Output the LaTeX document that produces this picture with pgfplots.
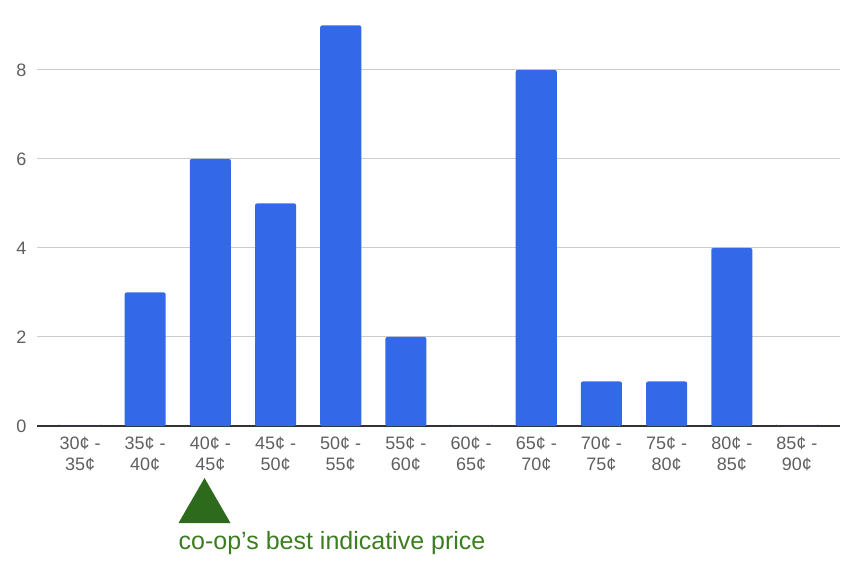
\documentclass[border=0pt]{standalone}
\usepackage{fontspec}
\setmainfont{Liberation Sans}
\usepackage{pgfplots}
\pgfplotsset{compat=1.18}
\definecolor{BarBlue}{HTML}{3369E8}
\definecolor{GridGray}{HTML}{CCCCCC}
\definecolor{LabelGray}{HTML}{5F5F5F}
\definecolor{TriGreen}{HTML}{2D6A1B}
\definecolor{TextGreen}{HTML}{3C7D22}
\newcommand{\lbl}[2]{\strut#1¢ -\\\strut#2¢}

\begin{document}
\begin{tikzpicture}
\begin{axis}[
  scale only axis,
  width=803pt,
  height=426pt,
  xmin=-0.66, xmax=11.66,
  ymin=0, ymax=9.57,
  ybar,
  bar width=0.63,
  xtick={0,1,2,3,4,5,6,7,8,9,10,11},
  xticklabels={{\lbl{30}{35}},{\lbl{35}{40}},{\lbl{40}{45}},{\lbl{45}{50}},{\lbl{50}{55}},{\lbl{55}{60}},{\lbl{60}{65}},{\lbl{65}{70}},{\lbl{70}{75}},{\lbl{75}{80}},{\lbl{80}{85}},{\lbl{85}{90}}},
  xticklabel style={align=center,font=\fontsize{18}{21}\selectfont,text=LabelGray,yshift=-5pt},
  ytick={0,2,4,6,8},
  yticklabel style={font=\fontsize{18}{21}\selectfont,text=LabelGray,xshift=-7pt},
  /pgf/number format/assume math mode=true,
  ymajorgrids,
  grid style={GridGray,line width=1pt},
  axis x line*=bottom,
  axis y line*=left,
  y axis line style={draw=none},
  x axis line style={draw=black!80,line width=1.2pt,-},
  major tick length=0pt,
  xtick style={draw=none},
  ytick style={draw=none},
  clip=false,
]
\addplot[fill=BarBlue,draw=none,rounded corners=2pt] coordinates {
  (0,0) (1,3) (2,6) (3,5) (4,9) (5,2) (6,0) (7,8) (8,1) (9,1) (10,4) (11,0)
};
\fill[TriGreen] ([xshift=-26pt,yshift=-97pt]axis cs:1.91,0) -- ([yshift=-52pt]axis cs:1.91,0) -- ([xshift=26pt,yshift=-97pt]axis cs:1.91,0) -- cycle;
\node[anchor=base west,inner sep=0pt,text=TextGreen,font=\fontsize{25}{28}\selectfont] at ([xshift=-26pt,yshift=-123pt]axis cs:1.91,0) {co-op’s best indicative price};
\path ([xshift=-37pt]axis cs:-0.66,0) ([xshift=25pt,yshift=-137pt]axis cs:11.66,0);
\end{axis}
\end{tikzpicture}
\end{document}
